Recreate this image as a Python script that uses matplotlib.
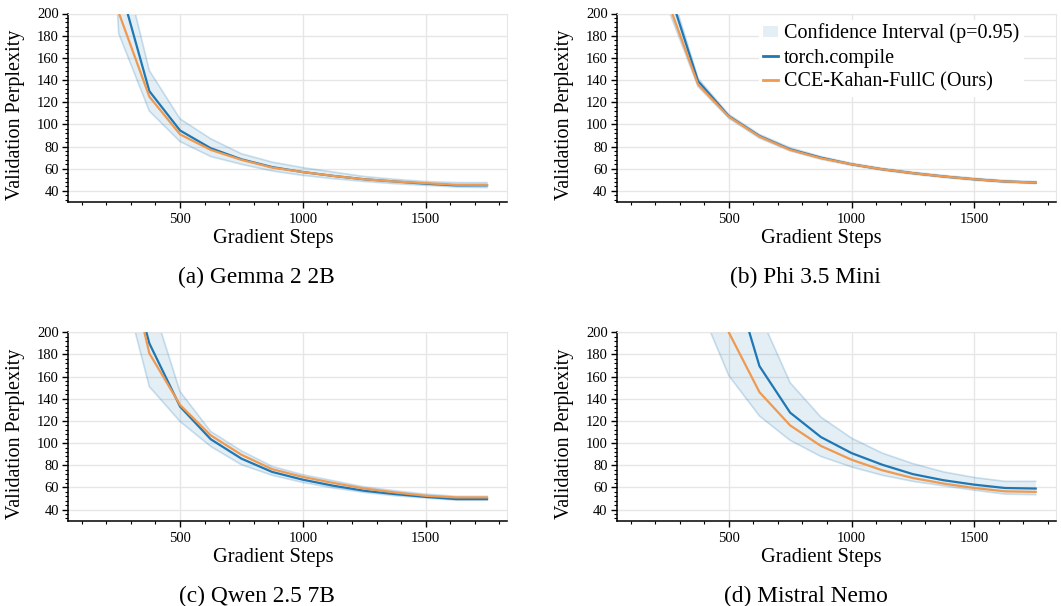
import matplotlib
matplotlib.use("Agg")
import matplotlib.pyplot as plt
from matplotlib.patches import Patch
from matplotlib.lines import Line2D
from matplotlib.ticker import MultipleLocator

plt.rcParams['font.family'] = ['Liberation Serif', 'DejaVu Serif']

# ---------------- data ----------------
steps = [125, 250, 375, 500, 625, 750, 875, 1000, 1125, 1250, 1375, 1500, 1625, 1750]

captions = ["(a) Gemma 2 2B", "(b) Phi 3.5 Mini", "(c) Qwen 2.5 7B", "(d) Mistral Nemo"]

gemma_torch = [700, 229, 130, 94.5, 78.5, 68.5, 61.5, 57, 53.5, 50.5, 48.5, 46.5, 45, 45]
gemma_cce = [700, 201, 125, 91, 77, 68, 61, 57, 53.5, 50.5, 48.5, 47, 45.5, 45.5]
gemma_upper = [900, 261, 148.5, 105, 87, 73.5, 66, 61, 57, 53, 50.5, 48.5, 47.5, 47.5]
gemma_lower = [700, 182, 112, 84.5, 71, 64, 58, 54, 51, 48.5, 46.5, 45, 43.5, 43]

phi_torch = [700, 225, 139, 107.5, 89.5, 77.5, 70, 64, 59.5, 56, 53, 50.5, 48.5, 47.5]
phi_cce = [700, 212, 136, 107, 89, 77, 69.5, 64, 59.5, 56, 53, 50.5, 48.5, 47.5]
phi_upper = [750, 232, 141.5, 109, 91, 79, 71, 65, 60.5, 57, 54, 51.5, 49.5, 48.5]
phi_lower = [650, 206, 134, 105.5, 87.5, 76, 68.5, 63, 58.5, 55, 52, 49.5, 47.5, 46.5]

qwen_torch = [900, 294, 190, 133, 103.5, 86, 74, 67, 61.5, 57, 54, 51.5, 49.5, 49.5]
qwen_cce = [900, 300, 181, 134.5, 107, 89.5, 76.5, 69.5, 64, 59, 55.5, 52.5, 51, 51]
qwen_upper = [1000, 400, 234, 146.5, 110.5, 93, 79, 71.5, 66, 60.5, 57, 54, 52, 52]
qwen_lower = [800, 258, 151, 119.5, 97, 80.5, 71, 64.5, 59.5, 55.5, 52.5, 50.5, 48.5, 48.5]

mistral_torch = [1500, 800, 450, 262, 169.5, 127.5, 105.5, 91, 80.5, 72, 66.5, 62.5, 59.5, 59]
mistral_cce = [1200, 600, 330, 200, 146, 116, 97.5, 85, 75.5, 68.5, 63.5, 59.5, 56.5, 56]
mistral_upper = [1800, 1000, 500, 300, 216.5, 154.5, 123.5, 104.5, 91, 81.5, 74, 69, 65.5, 65.5]
mistral_lower = [900, 450, 227, 161, 124.5, 102.5, 88, 78.5, 71, 65.5, 61.5, 57.5, 54, 53.5]

panels = [
    (gemma_torch, gemma_cce, gemma_upper, gemma_lower),
    (phi_torch, phi_cce, phi_upper, phi_lower),
    (qwen_torch, qwen_cce, qwen_upper, qwen_lower),
    (mistral_torch, mistral_cce, mistral_upper, mistral_lower),
]

legend_labels = ["Confidence Interval (p=0.95)", "torch.compile", "CCE-Kahan-FullC (Ours)"]

# ---------------- style ----------------
BLUE = '#1f77b4'
ORANGE = '#ef9a50'
GRID = '#e6e6e6'

W, H = 1061, 606
fig = plt.figure(figsize=(W / 100, H / 100), dpi=100)

rects = [(68, 13.5, 507, 202), (616.7, 13.5, 1055.7, 202),
         (68, 332.3, 507, 520.7), (616.7, 332.3, 1055.7, 520.7)]

for i, ((tc, cce, up, lo), (l, t, r, b)) in enumerate(zip(panels, rects)):
    ax = fig.add_axes([l / W, 1 - b / H, (r - l) / W, (b - t) / H])
    ax.fill_between(steps, lo, up, color=BLUE, alpha=0.12, lw=0, zorder=1)
    ax.plot(steps, up, color=BLUE, alpha=0.22, lw=1.2, zorder=1.5)
    ax.plot(steps, lo, color=BLUE, alpha=0.22, lw=1.2, zorder=1.5)
    ax.plot(steps, tc, color=BLUE, lw=1.6, zorder=3)
    ax.plot(steps, cce, color=ORANGE, lw=1.6, zorder=4)
    ax.set_ylim(30, 200)
    ax.set_xticks([500, 1000, 1500])
    ax.xaxis.set_minor_locator(MultipleLocator(100))
    ax.set_yticks([40, 60, 80, 100, 120, 140, 160, 180, 200])
    ax.yaxis.set_minor_locator(MultipleLocator(4))
    ax.set_axisbelow(True)
    ax.grid(True, which='major', color=GRID, lw=1)
    for s in ['top', 'right']:
        ax.spines[s].set_color(GRID)
    for s in ['left', 'bottom']:
        ax.spines[s].set_color('black')
        ax.spines[s].set_linewidth(1.1)
    ax.tick_params(which='major', length=4, width=1, labelsize=10.5, pad=2.5, colors='black')
    ax.tick_params(which='minor', length=2.2, width=0.8)
    ax.tick_params(axis='x', which='major', pad=4)
    ax.set_xlabel("Gradient Steps", fontsize=14.7)
    ax.xaxis.set_label_coords(0.467, (202 - 243) / 188.5)
    ax.xaxis.label.set_verticalalignment('baseline')
    ax.set_ylabel("Validation Perplexity", fontsize=14.5)
    ax.yaxis.set_label_coords((16 - 68) / 439, (202 - 115) / 188.5)
    ax.yaxis.label.set_verticalalignment('center')
    fig.text((l + 0.43 * (r - l)) / W, 1 - (b + 81) / H, captions[i],
             ha='center', va='baseline', fontsize=16.8)
    if i == 1:
        handles = [Patch(facecolor=BLUE, alpha=0.12, edgecolor='none'),
                   Line2D([], [], color=BLUE, lw=2),
                   Line2D([], [], color=ORANGE, lw=2)]
        leg = ax.legend(handles, legend_labels, loc='upper left',
                        bbox_to_anchor=(0.324, 0.968), fontsize=14.5,
                        frameon=True, framealpha=1, facecolor='white', edgecolor='white',
                        fancybox=False, borderpad=0.2, borderaxespad=0,
                        handlelength=0.75, handleheight=0.5, handletextpad=0.3,
                        labelspacing=0.25)
        leg.set_zorder(10)

fig.savefig("out.png", dpi=100)
